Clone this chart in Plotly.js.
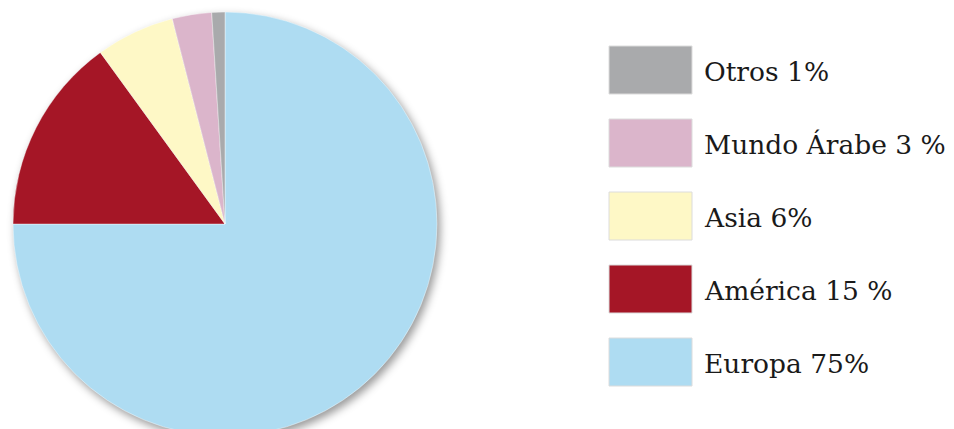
<!DOCTYPE html>
<html><head><meta charset="utf-8">
<script src="https://cdn.plot.ly/plotly-3.0.1.min.js"></script>
<style>html,body{margin:0;padding:0;overflow:hidden;background:#fff;width:954px;height:429px}
.pielayer{filter:drop-shadow(3px 4px 4px rgba(0,0,0,0.4));}</style>
</head><body><div id="chart"></div>
<script>
const regions = ["Europa", "América", "Asia", "Mundo Árabe", "Otros"];
const shares = [75, 15, 6, 3, 1];
const legendTexts = ["Europa 75%", "América 15 %", "Asia 6%", "Mundo Árabe 3 %", "Otros 1%"];
const colors = ["#aedcf2", "#a51626", "#fef8c6", "#dbb5cb", "#a9aaac"];

const W = 954, H = 440;
const px = x => x / W;
const py = y => 1 - y / H;

const shapes = [], annotations = [];
const order = [4, 3, 2, 1, 0];
const tops = [46, 119, 192, 265, 338];
order.forEach((idx, k) => {
  const t = tops[k];
  shapes.push({type: "rect", xref: "paper", yref: "paper",
    x0: px(609), x1: px(692), y0: py(t), y1: py(t + 48),
    fillcolor: colors[idx], line: {color: "#dcdcdc", width: 1}});
  annotations.push({xref: "paper", yref: "paper", x: px(702), y: py(t + 25),
    xanchor: "left", yanchor: "middle", showarrow: false,
    text: legendTexts[idx],
    font: {family: "DejaVu Serif", size: 26.5, color: "#1a1a1a"}});
});

const data = [{
  type: "pie", labels: regions, values: shares, sort: false,
  direction: "clockwise", rotation: 0,
  marker: {colors: colors, line: {color: "rgba(255,255,255,0.5)", width: 0.8}},
  textinfo: "none", hoverinfo: "label+percent",
  domain: {x: [px(13), px(437)], y: [py(436), py(12)]}
}];
const layout = {width: W, height: H, margin: {l: 0, r: 0, t: 0, b: 0},
  showlegend: false, paper_bgcolor: "#fff", shapes: shapes, annotations: annotations};
Plotly.newPlot("chart", data, layout, {displayModeBar: false, staticPlot: true});
</script></body></html>
